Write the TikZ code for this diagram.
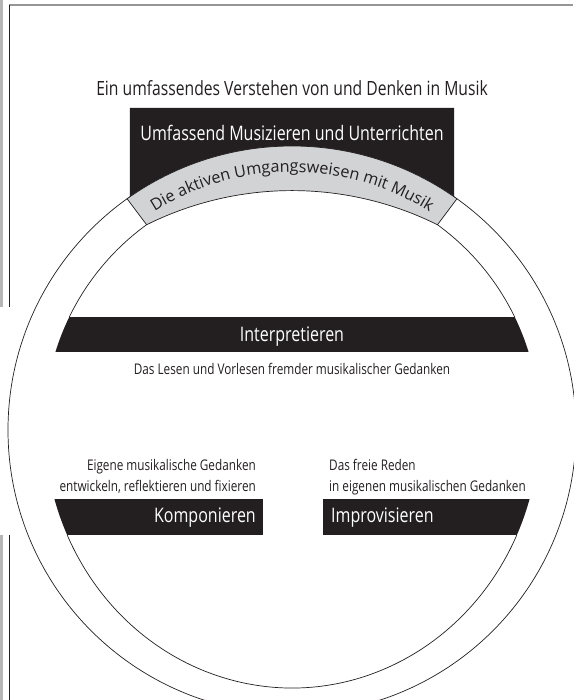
\documentclass[tikz,border=0pt]{standalone}
\usepackage{fontspec}
\setmainfont{Open Sans}
\newfontfamily\condfont{Open Sans}[FakeStretch=0.8]
\newfontfamily\bandfont{Open Sans}
\usetikzlibrary{decorations.text}
\definecolor{ink}{RGB}{35,31,32}
\definecolor{bandgray}{RGB}{209,211,212}
\definecolor{framegray}{RGB}{150,150,150}

\begin{document}
\begin{tikzpicture}[x=1pt,y=1pt,
    bigtext/.style={inner sep=0pt, font=\condfont\fontsize{20}{23}\selectfont},
    smalltext/.style={inner sep=0pt, text=ink, font=\condfont\fontsize{14.7}{21}\selectfont},
    ring/.style={draw=ink, line width=0.7pt}]
  \useasboundingbox (0,0) rectangle (573,700);
  \coordinate (O) at (292,270);
  \coordinate (I) at (292,275);

  % frame
  \fill[framegray!70] (0,700) rectangle (3,393);
  \fill[framegray!70] (0,165) rectangle (3,0);
  \draw[framegray, line width=1.2pt] (9,695) -- (573,695);
  \draw[ink, line width=0.8pt] (9,695) -- (9,393);
  \draw[ink, line width=0.8pt] (9,165) -- (9,0);

  % black box on top
  \coordinate (boxtop) at (292,592);
  \coordinate (boxL) at ([shift={(124.8:284)}]O);
  \coordinate (boxR) at ([shift={(55.2:284)}]O);
  \fill[ink] (boxR) arc[start angle=55.2, end angle=124.8, radius=284]
    -- (boxL |- boxtop) -- (boxR |- boxtop) -- cycle;

  % circles and band
  \draw[ring] (O) circle[radius=284];
  \filldraw[ring, fill=bandgray] ([shift={(125.5:284)}]O)
    arc[start angle=125.5, end angle=54.5, radius=284]
    -- ([shift={(54:247.5)}]I) arc[start angle=63.55, end angle=116.45, radius=326.5] -- cycle;
  \path[decorate, decoration={text along path, text align=center, text color=ink,
      text={|\bandfont\fontsize{16.2}{19}\selectfont|Die aktiven Umgangsweisen mit Musik}}]
    ([shift={(124:258)}]O) arc[start angle=124, end angle=56, radius=258];
  \draw[ring] ([shift={(126:247.5)}]I) arc[start angle=126, end angle=154.13, radius=247.5];
  \draw[ring] ([shift={(54:247.5)}]I) arc[start angle=54, end angle=25.87, radius=247.5];
  \draw[ring] ([shift={(204.72:247.5 and 263)}]I)
    arc[start angle=204.72, end angle=335.28, x radius=247.5, y radius=263];

  % bars
  \begin{scope}
    \clip (I) circle[radius=247.5];
    \fill[ink] (0,348) rectangle (573,383);
  \end{scope}
  \begin{scope}
    \clip (I) ellipse[x radius=247.5, y radius=263];
    \fill[ink] (0,165) rectangle (263,201);
    \fill[ink] (323,165) rectangle (573,201);
  \end{scope}

  % texts
  \node[bigtext, text=ink, font=\condfont\fontsize{19.6}{23}\selectfont] (heading) at (292,612)
    {Ein umfassendes Verstehen von und Denken in Musik};
  \node[bigtext, text=white] (umfassend) at (292,567) {Umfassend Musizieren und Unterrichten};
  \node[bigtext, text=white] (interp) at (292,363) {Interpretieren};
  \node[smalltext] (interpinfo) at (292,331) {Das Lesen und Vorlesen fremder musikalischer Gedanken};
  \node[smalltext, align=right, anchor=north east] (kompinfo) at (256,241)
    {Eigene musikalische Gedanken\\entwickeln, reflektieren und fixieren};
  \node[smalltext, align=left, anchor=north west] (improinfo) at (329,241)
    {Das freie Reden\\in eigenen musikalischen Gedanken};
  \node[bigtext, text=white, anchor=east] (komp) at (256,182) {Komponieren};
  \node[bigtext, text=white, anchor=west] (impro) at (331,182) {Improvisieren};
\end{tikzpicture}
\end{document}
